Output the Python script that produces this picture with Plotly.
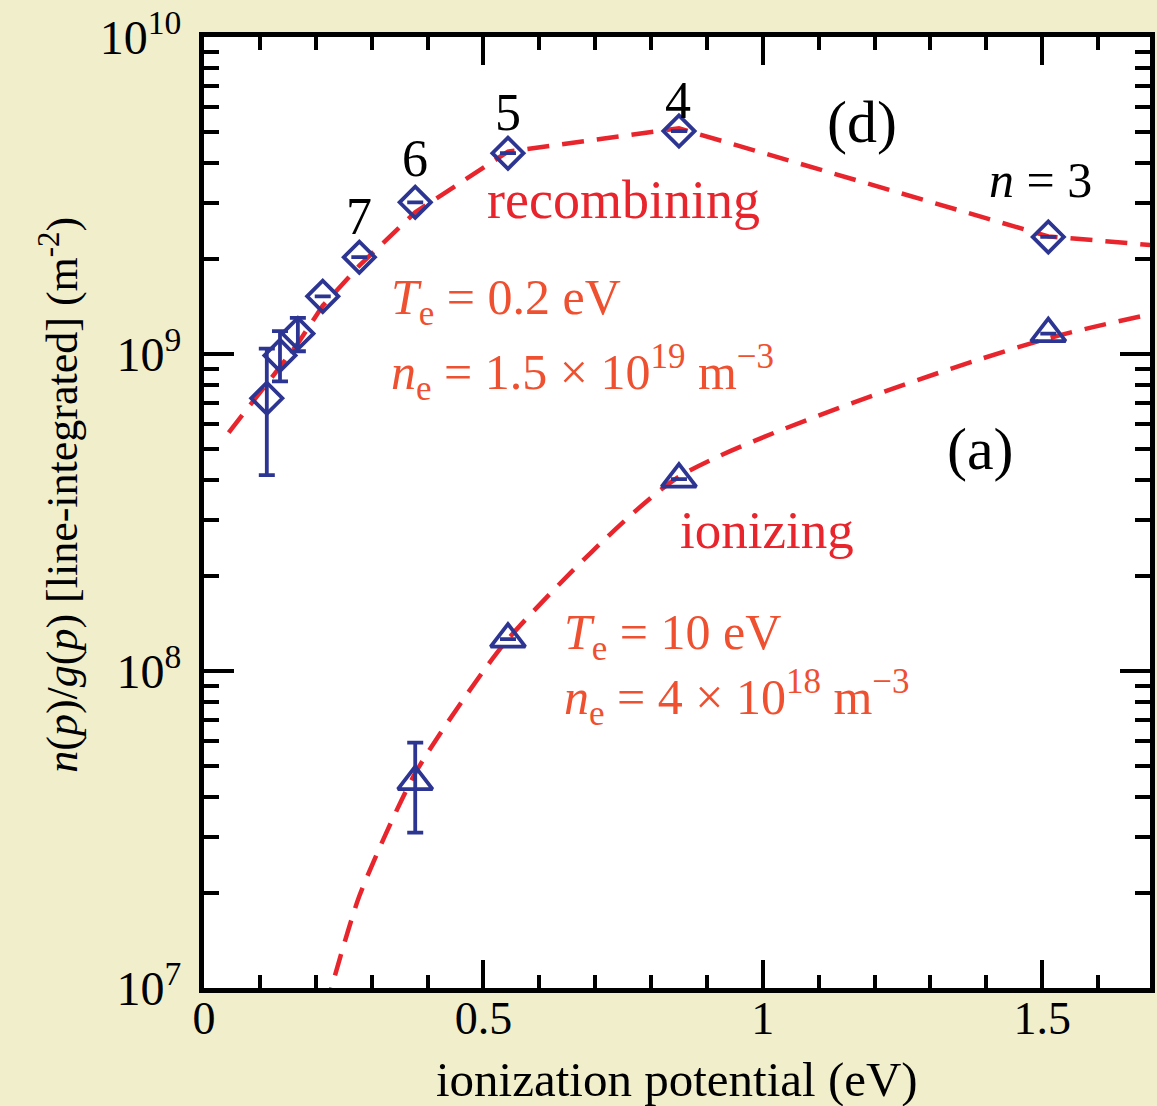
import plotly.graph_objects as go

# ---------------- data ----------------
# recombining plasma: measured populations (diamonds), levels n = 3..11
rec_n = [3, 4, 5, 6, 7, 8, 9, 10, 11]
rec_E = [1.511, 0.850, 0.544, 0.378, 0.278, 0.2125, 0.168, 0.136, 0.1124]
rec_y = [2.34e9, 5.05e9, 4.30e9, 3.01e9, 2.02e9, 1.52e9, 1.16e9, 9.9e8, 7.25e8]
rec_err_plus = [0, 0, 0, 0, 0, 0, 1.4e8, 1.9e8, 3.15e8]
rec_err_minus = [0, 0, 0, 0, 0, 0, 1.4e8, 1.7e8, 3.1e8]

# recombining model curve (Te = 0.2 eV, ne = 1.5e19 m^-3)
rec_model_E = [3.4, 1.511, 0.850, 0.544, 0.378, 0.278, 0.2125, 0.168, 0.136, 0.1124, 0.0944, 0.0694, 0.030]
rec_model_y = [1.23e9, 2.35e9, 5.15e9, 4.35e9, 2.80e9, 1.90e9, 1.42e9, 1.08e9, 9.1e8, 8.05e8, 7.3e8, 6.4e8, 5.25e8]

# ionizing plasma: measured populations (triangles), levels n = 3..6
ion_n = [3, 4, 5, 6]
ion_E = [1.511, 0.850, 0.544, 0.378]
ion_y = [1.16e9, 4.03e8, 1.26e8, 4.48e7]
ion_err_plus = [0, 0, 0, 1.46e7]
ion_err_minus = [0, 0, 0, 1.39e7]

# ionizing model curve (Te = 10 eV, ne = 4e18 m^-3)
ion_model_E = [3.4, 1.511, 0.850, 0.544, 0.378, 0.278, 0.2125]
ion_model_y = [4.8e9, 1.12e9, 4.1e8, 1.26e8, 4.76e7, 1.95e7, 8.0e6]

y_tickvals = [1e7, 1e8, 1e9, 1e10]
y_ticktext = ["10<sup>7</sup>", "10<sup>8</sup>", "10<sup>9</sup>", "10<sup>10</sup>"]
x_tickvals = [0, 0.5, 1, 1.5]
x_ticktext = ["0", "0.5", "1", "1.5"]
level_labels = ["4", "5", "6", "7"]

# ---------------- style ----------------
BLUE = "#2d3592"
RED = "#e8252c"
ORANGE = "#ee5030"
BG = "#f0eecb"
FONT = "Liberation Serif"

W, H = 1157, 1106
L, R, T, B = 204, 2, 37, 118
PW, PH = W - L - R, H - T - B


def px(x, y):
    return (x - L) / PW, (H - B - y) / PH


fig = go.Figure()

dash = "22px,13px"
fig.add_trace(go.Scatter(x=rec_model_E, y=rec_model_y, mode="lines",
                         line=dict(color=RED, width=4.5, dash=dash), showlegend=False))
fig.add_trace(go.Scatter(x=ion_model_E, y=ion_model_y, mode="lines",
                         line=dict(color=RED, width=4.5, dash=dash, shape="spline", smoothing=0.6),
                         showlegend=False))

fig.add_trace(go.Scatter(
    x=rec_E, y=rec_y, mode="markers",
    marker=dict(symbol="diamond-open", size=24, color=BLUE, line=dict(width=3.8, color=BLUE)),
    error_y=dict(type="data", symmetric=False, array=rec_err_plus, arrayminus=rec_err_minus,
                 color=BLUE, thickness=3.8, width=8),
    showlegend=False))
fig.add_trace(go.Scatter(
    x=ion_E, y=ion_y, mode="markers",
    marker=dict(symbol="triangle-up-open", size=30, color=BLUE, line=dict(width=3.8, color=BLUE)),
    error_y=dict(type="data", symmetric=False, array=ion_err_plus, arrayminus=ion_err_minus,
                 color=BLUE, thickness=3.8, width=8),
    showlegend=False))

ann = []


def add_text(text, x, y, size, color, anchor="center", **kw):
    xp, yp = px(x, y)
    d = dict(text=text, x=xp, y=yp, xref="paper", yref="paper", showarrow=False,
             xanchor=anchor, yanchor="middle",
             font=dict(family=FONT, size=size, color=color))
    d.update(kw)
    ann.append(d)


# level labels
for lab, (x, y) in zip(level_labels, [(681, 100), (510, 113), (416, 158), (360, 216)]):
    add_text(lab, x, y, 52, "black")
add_text("<i>n</i> = 3", 1045, 180, 50, "black")
add_text("(d)", 865, 122, 60, "black")
add_text("(a)", 985, 449, 60, "black")
add_text("recombining", 626, 200, 54, RED)
add_text("ionizing", 770, 530, 53, RED)
add_text("<i>T</i><sub>e</sub> = 0.2 eV", 390, 301, 50, ORANGE, anchor="left")
add_text("<i>n</i><sub>e</sub> = 1.5 × 10<sup>19</sup> m<sup>−3</sup>", 390, 372, 50, ORANGE, anchor="left")
add_text("<i>T</i><sub>e</sub> = 10 eV", 564, 636, 50, ORANGE, anchor="left")
add_text("<i>n</i><sub>e</sub> = 4 × 10<sup>18</sup> m<sup>−3</sup>", 564, 697, 50, ORANGE, anchor="left")

add_text("ionization potential (eV)", 680, 1079, 49, "black")
add_text("<i>n</i>(<i>p</i>)/<i>g</i>(<i>p</i>) [line-integrated] (m<sup>-2</sup>)",
         58, 495, 44, "black", textangle=-90)

fig.update_layout(
    width=W, height=H,
    margin=dict(l=L, r=R, t=T, b=B, pad=0),
    paper_bgcolor=BG, plot_bgcolor="white",
    annotations=ann,
    font=dict(family=FONT, color="black"),
    xaxis=dict(range=[0, 1.693], showgrid=False, zeroline=False,
               showline=True, linewidth=5, linecolor="black", mirror="allticks",
               ticks="inside", ticklen=28, tickwidth=4, tickcolor="black",
               tickvals=x_tickvals, ticktext=x_ticktext,
               tickfont=dict(family=FONT, size=46, color="black"),
               ticklabelstandoff=-14,
               minor=dict(dtick=0.1, ticks="inside", ticklen=13, tickwidth=4, tickcolor="black")),
    yaxis=dict(type="log", range=[7, 10], showgrid=False, zeroline=False,
               showline=True, linewidth=5, linecolor="black", mirror="allticks",
               ticks="inside", ticklen=30, tickwidth=4, tickcolor="black",
               tickvals=y_tickvals, ticktext=y_ticktext,
               tickfont=dict(family=FONT, size=48, color="black"),
               ticklabelstandoff=8,
               minor=dict(dtick="D1", ticks="inside", ticklen=15, tickwidth=4, tickcolor="black")),
)

fig.write_html("out.html")
